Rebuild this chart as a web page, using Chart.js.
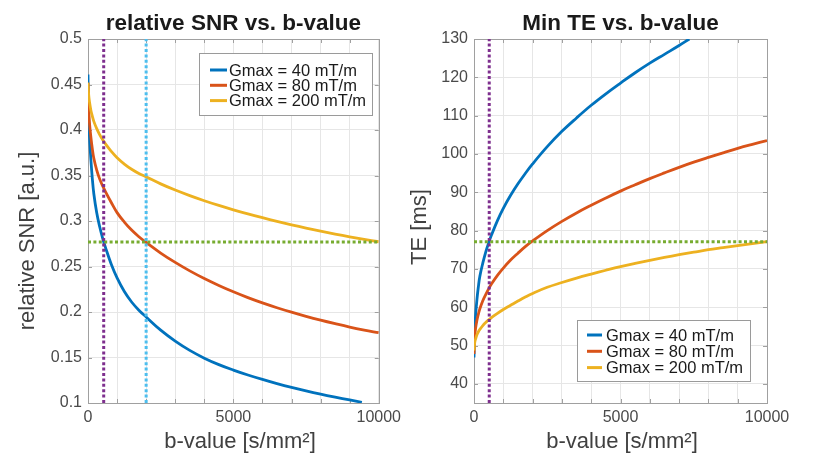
<!DOCTYPE html>
<html>
<head>
<meta charset="utf-8">
<script src="https://cdn.jsdelivr.net/npm/chart.js@4"></script>
<style>
  body { margin: 0; background: #fff; }
  #wrap { position: relative; width: 813px; height: 454px; }
  canvas { position: absolute; top: 0; }
</style>
</head>
<body>
<div id="wrap">
  <canvas id="snr" width="406" height="454" style="left:0"></canvas>
  <canvas id="te" width="407" height="454" style="left:406px"></canvas>
</div>
<script>
// ---- data ----
const labels = ['Gmax = 40 mT/m', 'Gmax = 80 mT/m', 'Gmax = 200 mT/m'];

const bTicks = [0, 1000, 2000, 3000, 4000, 5000, 6000, 7000, 8000, 9000, 10000];
const bLabels = [0, 5000, 10000];
const snrTicks = [0.1, 0.15, 0.2, 0.25, 0.3, 0.35, 0.4, 0.45, 0.5];
const teTicks = [40, 50, 60, 70, 80, 90, 100, 110, 120, 130];

// b-values the curves were read at
const bGrid = [0, 25, 50, 100, 150, 200, 300, 400, 500, 600, 800, 1000, 1250, 1500, 1750, 2000,
               2500, 3000, 3500, 4000, 4500, 5000, 5500, 6000, 6500, 7000, 7500, 8000, 8500, 9000, 9500, 10000];
const snrB40 = [0, 25, 50, 100, 150, 200, 300, 400, 500, 600, 800, 1000, 1250, 1500, 1750, 2000,
                2500, 3000, 3500, 4000, 4500, 5000, 5500, 6000, 6500, 7000, 7500, 8000, 8500, 9000, 9420];
const teB40  = [0, 25, 50, 100, 150, 200, 300, 400, 500, 600, 800, 1000, 1250, 1500, 1750, 2000,
                2500, 3000, 3500, 4000, 4500, 5000, 5500, 6000, 6500, 7000, 7350];

// relative SNR
const snr40  = [0.461, 0.413, 0.393, 0.367, 0.346, 0.330, 0.309, 0.294, 0.2815, 0.271, 0.2525, 0.2375, 0.2225, 0.2110, 0.2020, 0.1945,
                0.1800, 0.1680, 0.1578, 0.1493, 0.1422, 0.1362, 0.1308, 0.1259, 0.1214, 0.1172, 0.1133, 0.1097, 0.1064, 0.1033, 0.1008];
const snr80  = [0.452, 0.421, 0.408, 0.392, 0.379, 0.369, 0.356, 0.3463, 0.3388, 0.3323, 0.3203, 0.3092, 0.2988, 0.2900, 0.2827, 0.2765,
                0.2648, 0.2545, 0.2452, 0.2368, 0.2292, 0.2222, 0.2158, 0.2100, 0.2047, 0.1998, 0.1953, 0.1911, 0.1872, 0.1835, 0.1802, 0.1772];
const snr200 = [0.452, 0.438, 0.431, 0.4215, 0.415, 0.4095, 0.4015, 0.395, 0.3895, 0.3847, 0.3765, 0.3695, 0.3626, 0.3569, 0.3523, 0.3485,
                0.3408, 0.3340, 0.3279, 0.3223, 0.3171, 0.3123, 0.3078, 0.3036, 0.2996, 0.2958, 0.2922, 0.2888, 0.2856, 0.2826, 0.2798, 0.2772];
const snrMarkB = [540, 2000];      // purple, cyan
const snrMarkV = 0.277;            // green

// min TE [ms]
const te40  = [46.9, 54.0, 57.5, 62.0, 65.4, 68.1, 71.5, 74.4, 76.8, 78.9, 82.6, 85.8, 89.2, 92.2, 94.9, 97.4,
               101.9, 105.9, 109.4, 112.7, 115.7, 118.5, 121.2, 123.7, 126.0, 128.3, 130.0];
const te80  = [47.8, 52.5, 54.3, 56.6, 58.2, 59.6, 61.7, 63.3, 64.8, 66.1, 68.3, 70.2, 72.3, 74.1, 75.8, 77.3,
               80.0, 82.4, 84.6, 86.6, 88.5, 90.3, 91.95, 93.55, 95.05, 96.5, 97.85, 99.1, 100.3, 101.45, 102.5, 103.5];
const te200 = [48.7, 50.8, 51.6, 52.8, 53.6, 54.2, 55.2, 56.0, 56.7, 57.3, 58.4, 59.4, 60.5, 61.6, 62.65, 63.6,
               65.2, 66.45, 67.6, 68.65, 69.65, 70.6, 71.45, 72.25, 73.0, 73.7, 74.35, 75.0, 75.55, 76.1, 76.6, 77.1];
const teMarkB = 520;
const teMarkV = 77.1;

// ---- styling ----
const FONT = 'Liberation Sans, Arial, Helvetica, sans-serif';
const colors = ['#0072BD', '#D95319', '#EDB120'];
const tickColor = '#4a4a4a';

function pts(xs, ys) { return xs.map((x, i) => ({x: x, y: ys[i]})); }

function curve(i, xs, ys) {
  return {
    label: labels[i], data: pts(xs, ys), showLine: true,
    borderColor: colors[i], backgroundColor: colors[i],
    borderWidth: 2.8, pointRadius: 0, tension: 0.4,
    order: 3 - i
  };
}

function dotted(color, data) {
  return {
    data: data, showLine: true, borderColor: color, borderWidth: 3,
    borderDash: [3, 2.4], pointRadius: 0, order: 0
  };
}

// box, inner tick marks, titles and legend
const decor = {
  id: 'decor',
  beforeDatasetsDraw(chart) {
    const {ctx, chartArea: a, scales} = chart;
    ctx.save();
    ctx.strokeStyle = '#a0a0a0';
    ctx.lineWidth = 1;
    ctx.beginPath();
    scales.x.ticks.forEach(t => {
      const px = Math.round(scales.x.getPixelForValue(t.value)) + 0.5;
      ctx.moveTo(px, a.bottom); ctx.lineTo(px, a.bottom - 4);
      ctx.moveTo(px, a.top); ctx.lineTo(px, a.top + 4);
    });
    scales.y.ticks.forEach(t => {
      const py = Math.round(scales.y.getPixelForValue(t.value)) + 0.5;
      ctx.moveTo(a.left, py); ctx.lineTo(a.left + 4, py);
      ctx.moveTo(a.right, py); ctx.lineTo(a.right - 4, py);
    });
    ctx.stroke();
    ctx.strokeRect(Math.round(a.left) + 0.5, Math.round(a.top) + 0.5,
                   Math.round(a.width), Math.round(a.height));
    ctx.restore();
  },
  afterDraw(chart, args, o) {
    const {ctx, chartArea: a} = chart;
    ctx.save();
    ctx.fillStyle = '#1a1a1a';
    ctx.font = 'bold 22.5px ' + FONT;
    ctx.textAlign = 'center';
    ctx.textBaseline = 'alphabetic';
    ctx.fillText(o.title, (a.left + a.right) / 2, 30);

    ctx.fillStyle = '#404040';
    ctx.font = '22px ' + FONT;
    ctx.fillText(o.xTitle, o.xTitleX, 448);

    ctx.save();
    ctx.translate(o.yTitleX, o.yTitleY);
    ctx.rotate(-Math.PI / 2);
    ctx.textBaseline = 'middle';
    ctx.fillText(o.yTitle, 0, 0);
    ctx.restore();

    // legend
    const L = o.legend;
    ctx.fillStyle = '#fff';
    ctx.fillRect(L.x, L.y, L.w, L.h);
    ctx.strokeStyle = '#9a9a9a';
    ctx.lineWidth = 1;
    ctx.strokeRect(L.x + 0.5, L.y + 0.5, L.w, L.h);
    ctx.font = '16.5px ' + FONT;
    ctx.textAlign = 'left';
    ctx.textBaseline = 'middle';
    chart.data.datasets.filter(d => d.label).forEach((d, i) => {
      const yy = L.y + L.first + i * L.step;
      ctx.strokeStyle = d.borderColor;
      ctx.lineWidth = 3;
      ctx.beginPath();
      ctx.moveTo(L.x + L.line0, yy); ctx.lineTo(L.x + L.line1, yy);
      ctx.stroke();
      ctx.fillStyle = '#1a1a1a';
      ctx.fillText(d.label, L.x + L.text, yy + 1);
    });
    ctx.restore();
  }
};

function makeChart(id, datasets, yMin, yMax, yTicks, yWidth, padRight, deco) {
  return new Chart(document.getElementById(id), {
    type: 'scatter',
    data: {datasets: datasets},
    plugins: [decor],
    options: {
      responsive: false,
      animation: false,
      layout: {padding: {left: 0, right: padRight, top: 39, bottom: 0}},
      plugins: {legend: {display: false}, tooltip: {enabled: false}, decor: deco},
      scales: {
        x: {
          type: 'linear', min: 0, max: 10000,
          afterBuildTicks: s => { s.ticks = bTicks.map(v => ({value: v})); },
          afterFit: s => { s.height = 51; },
          grid: {color: '#e6e6e6', drawTicks: false},
          border: {display: false},
          ticks: {
            autoSkip: false, maxRotation: 0, padding: 5, color: tickColor,
            font: {size: 16, family: FONT},
            callback: v => bLabels.includes(v) ? String(v) : ''
          }
        },
        y: {
          type: 'linear', min: yMin, max: yMax,
          afterBuildTicks: s => { s.ticks = yTicks.map(v => ({value: v})); },
          afterFit: s => { s.width = yWidth; },
          grid: {color: '#e6e6e6', drawTicks: false},
          border: {display: false},
          ticks: {
            autoSkip: false, padding: 6, color: tickColor,
            font: {size: 16, family: FONT},
            callback: v => String(v)
          }
        }
      }
    }
  });
}

makeChart('snr', [
  dotted('#7E2F8E', [{x: snrMarkB[0], y: 0.1}, {x: snrMarkB[0], y: 0.5}]),
  dotted('#4DBEEE', [{x: snrMarkB[1], y: 0.1}, {x: snrMarkB[1], y: 0.5}]),
  dotted('#77AC30', [{x: 0, y: snrMarkV}, {x: 10000, y: snrMarkV}]),
  curve(0, snrB40, snr40),
  curve(1, bGrid, snr80),
  curve(2, bGrid, snr200)
], 0.1, 0.5, snrTicks, 88, 24, {
  title: 'relative SNR vs. b-value',
  xTitle: 'b-value [s/mm\u00B2]', xTitleX: 240,
  yTitle: 'relative SNR [a.u.]', yTitleX: 28, yTitleY: 241,
  legend: {x: 199, y: 53, w: 173, h: 62, first: 17, step: 15.3, line0: 11, line1: 28, text: 30}
});

makeChart('te', [
  dotted('#7E2F8E', [{x: teMarkB, y: 35}, {x: teMarkB, y: 130}]),
  dotted('#77AC30', [{x: 0, y: teMarkV}, {x: 10000, y: teMarkV}]),
  curve(0, teB40, te40),
  curve(1, bGrid, te80),
  curve(2, bGrid, te200)
], 35, 130, teTicks, 68, 46, {
  title: 'Min TE vs. b-value',
  xTitle: 'b-value [s/mm\u00B2]', xTitleX: 216,
  yTitle: 'TE [ms]', yTitleX: 14, yTitleY: 227,
  legend: {x: 171, y: 320, w: 173, h: 61, first: 15, step: 16.3, line0: 10, line1: 25, text: 29}
});
</script>
</body>
</html>
